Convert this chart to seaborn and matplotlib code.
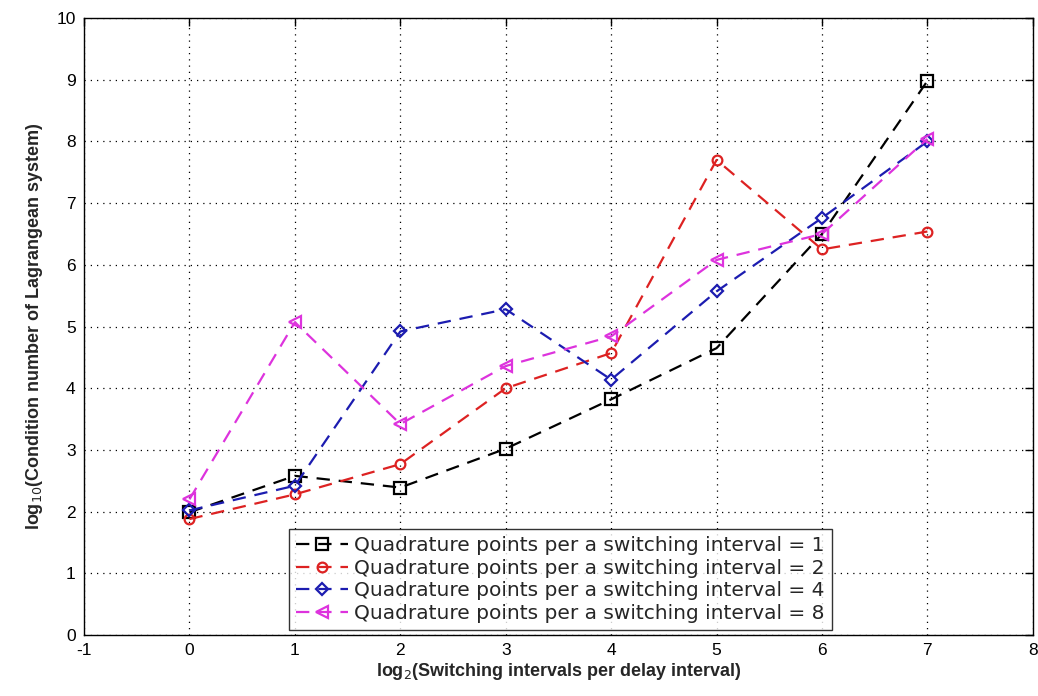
import matplotlib
matplotlib.use("Agg")
import matplotlib.pyplot as plt
import seaborn as sns
import pandas as pd

# values
x_vals = [0, 1, 2, 3, 4, 5, 6, 7]
q1 = [1.99, 2.58, 2.39, 3.02, 3.82, 4.65, 6.50, 8.98]
q2 = [1.88, 2.28, 2.77, 4.00, 4.57, 7.70, 6.25, 6.54]
q4 = [2.02, 2.42, 4.92, 5.28, 4.14, 5.57, 6.76, 8.00]
q8 = [2.20, 5.07, 3.42, 4.36, 4.84, 6.08, 6.50, 8.04]

labels = ["Quadrature points per a switching interval = 1",
          "Quadrature points per a switching interval = 2",
          "Quadrature points per a switching interval = 4",
          "Quadrature points per a switching interval = 8"]
colors = ["black", "#dd2222", "#1c1cb0", "#dd33dd"]
markers = ["s", "o", "D", "<"]
msizes = [8, 7, 6, 9]

sns.set_style("white")
plt.rcParams["font.family"] = ["Liberation Sans", "DejaVu Sans"]
plt.rcParams["axes.unicode_minus"] = False

fig = plt.figure(figsize=(10.38, 6.96), dpi=100)
ax = fig.add_axes([0.081, 0.0876, 0.914, 0.8865])

for ys, lab, c, m, ms in zip([q1, q2, q4, q8], labels, colors, markers, msizes):
    df = pd.DataFrame({"x": x_vals, "y": ys})
    sns.lineplot(data=df, x="x", y="y", ax=ax, color=c, linestyle="--",
                 linewidth=1.6, marker=m, markersize=ms,
                 markerfacecolor="none", markeredgecolor=c,
                 markeredgewidth=1.6, label=lab, dashes=False)
    ax.lines[-1].set_linestyle((0, (6, 4)))

ax.set_xlim(-1, 8)
ax.set_ylim(0, 10)
ax.set_xticks(range(-1, 9))
ax.set_yticks(range(0, 11))
ax.grid(True, color="black", linestyle=(0, (1, 4)), linewidth=0.9)
for s in ax.spines.values():
    s.set_color("black")
    s.set_linewidth(1.0)
ax.tick_params(direction="in", length=6, width=1, top=True, right=True,
               labelsize=12.5, colors="black", pad=6)

lab_font = dict(family=["Liberation Sans Narrow", "Liberation Sans", "DejaVu Sans"],
                fontweight="bold", fontsize=13)
ax.set_xlabel(r"log$_2$(Switching intervals per delay interval)", labelpad=2, **lab_font)
ax.set_ylabel(r"log$_{10}$(Condition number of Lagrangean system)", labelpad=8, **lab_font)

leg = ax.legend(loc="lower center", bbox_to_anchor=(0.502, 0.008),
                prop={"family": "DejaVu Sans", "size": 14.5},
                frameon=True, fancybox=False, borderaxespad=0,
                handlelength=2.6, handletextpad=0.3, borderpad=0.35,
                labelspacing=0.18)
leg.get_frame().set_edgecolor("black")
leg.get_frame().set_linewidth(1.0)

fig.savefig("out.png", dpi=100)
